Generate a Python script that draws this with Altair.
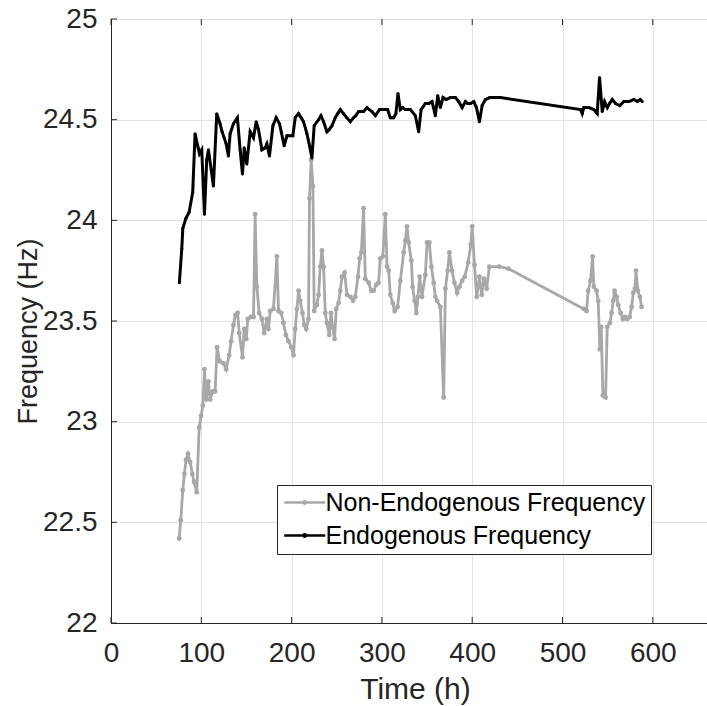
import altair as alt
import pandas as pd

# ---------------- data ----------------
endo_t = [75.7, 78.4, 79.5, 83.0, 86.5, 90.5, 93.1, 96.5, 98.0, 100.5, 103.5, 106.0, 107.9, 111.0,
          113.4, 117.1, 120.8, 123.0, 125.3, 127.5, 130.0, 131.9, 135.6, 140.0, 143.0, 145.6, 147.5,
          150.4, 154.1, 157.8, 160.8, 163.4, 167.1, 170.7, 172.6, 175.5, 179.3, 182.9, 186.6, 188.5,
          191.8, 194.8, 198.0, 201.4, 204.0, 207.7, 210.5, 213.2, 217.0, 219.9, 222.5, 225.0, 229.8,
          232.5, 235.4, 239.1, 241.5, 244.7, 248.3, 251.0, 253.9, 257.5, 261.0, 265.0, 268.6, 271.0,
          274.2, 279.7, 283.5, 286.0, 289.0, 292.7, 297.5, 301.9, 306.3, 309.3, 313.0, 315.5, 317.8,
          320.4, 323.0, 326.0, 331.5, 337.0, 340.7, 343.4, 348.1, 352.0, 355.5, 359.2, 361.8, 364.7,
          367.7, 371.0, 375.8, 381.4, 385.0, 388.8, 392.5, 395.0, 398.0, 401.7, 404.7, 408.0, 411.0,
          414.6, 419.4, 431.3, 520.0, 521.8, 523.6, 529.2, 534.7, 538.4, 541.0, 544.0, 546.6, 549.6,
          552.0, 555.1, 558.8, 563.5, 568.0, 573.5, 579.0, 582.8, 586.0, 588.3]
endo_f = [23.69, 23.86, 23.96, 24.01, 24.04, 24.14, 24.43, 24.36, 24.33, 24.35, 24.03, 24.30, 24.35, 24.25,
          24.17, 24.53, 24.48, 24.44, 24.41, 24.38, 24.32, 24.43, 24.48, 24.51, 24.35, 24.23, 24.36,
          24.28, 24.44, 24.41, 24.49, 24.45, 24.35, 24.36, 24.38, 24.32, 24.47, 24.51, 24.48, 24.44,
          24.37, 24.42, 24.42, 24.42, 24.51, 24.53, 24.51, 24.49, 24.43, 24.37, 24.31, 24.47, 24.50,
          24.52, 24.49, 24.44, 24.45, 24.47, 24.51, 24.53, 24.55, 24.53, 24.51, 24.49, 24.51, 24.52,
          24.54, 24.54, 24.56, 24.55, 24.54, 24.52, 24.55, 24.55, 24.55, 24.51, 24.51, 24.53, 24.63,
          24.55, 24.56, 24.55, 24.55, 24.52, 24.44, 24.55, 24.58, 24.58, 24.59, 24.52, 24.62, 24.56,
          24.61, 24.60, 24.61, 24.61, 24.59, 24.56, 24.59, 24.58, 24.58, 24.59, 24.56, 24.49, 24.57,
          24.60, 24.61, 24.61, 24.55, 24.53, 24.56, 24.56, 24.55, 24.53, 24.71, 24.54, 24.59, 24.56,
          24.58, 24.60, 24.58, 24.57, 24.59, 24.59, 24.60, 24.59, 24.60, 24.59]

non_t = [75.5, 77.2, 79.5, 81.3, 83.1, 85.3, 87.6, 90.1, 92.0, 95.0, 97.6, 99.8, 101.7, 103.5, 105.5,
         107.9, 109.8, 112.7, 115.3, 117.5, 120.3, 124.5, 127.5, 130.8, 133.0, 135.6, 137.8, 140.2,
         142.0, 145.6, 147.5, 149.8, 151.5, 155.0, 157.8, 159.6, 161.5, 164.1, 167.1, 169.6, 172.6,
         174.4, 176.3, 179.9, 183.7, 185.5, 188.5, 191.0, 193.7, 196.6, 199.6, 202.1, 204.0, 205.9,
         207.7, 209.5, 212.1, 214.0, 216.2, 218.7, 219.8, 221.7, 223.6, 225.0, 228.0, 229.9, 231.7,
         233.6, 235.4, 237.3, 239.1, 241.7, 243.6, 245.3, 247.6, 249.4, 252.0, 253.9, 255.8, 258.6,
         261.3, 265.0, 268.0, 270.5, 273.5, 275.3, 277.2, 279.7, 281.6, 285.3, 288.2, 290.8, 293.8,
         296.3, 298.2, 301.0, 303.8, 305.7, 307.5, 309.3, 311.9, 314.1, 317.4, 320.4, 324.1, 326.0,
         327.8, 329.6, 332.6, 334.0, 336.3, 338.1, 339.9, 341.8, 344.4, 348.1, 350.0, 352.5, 354.8,
         357.3, 359.2, 361.1, 364.7, 368.4, 370.3, 372.8, 374.7, 377.7, 380.3, 383.3, 385.8, 388.8,
         391.7, 395.5, 398.5, 400.0, 402.5, 405.0, 408.0, 410.5, 413.0, 416.0, 419.0, 430.0, 440.0,
         523.6, 526.6, 528.4, 531.0, 533.3, 534.7, 537.7, 539.5, 541.4, 542.9, 544.7, 547.7, 549.5,
         552.5, 554.3, 556.2, 557.6, 559.9, 561.7, 564.3, 566.8, 569.1, 571.7, 574.3, 576.5, 578.4,
         580.2, 581.3, 583.5, 585.7, 587.6]
non_f = [22.42, 22.51, 22.66, 22.74, 22.81, 22.84, 22.80, 22.74, 22.70, 22.65, 22.97, 23.03, 23.08, 23.26, 23.11,
         23.20, 23.11, 23.15, 23.15, 23.37, 23.30, 23.29, 23.26, 23.33, 23.40, 23.48, 23.53, 23.54,
         23.44, 23.32, 23.46, 23.41, 23.51, 23.52, 23.52, 24.03, 23.67, 23.54, 23.51, 23.44, 23.51,
         23.46, 23.55, 23.56, 23.82, 23.55, 23.54, 23.49, 23.43, 23.40, 23.37, 23.33, 23.46, 23.56,
         23.65, 23.60, 23.54, 23.48, 23.46, 23.51, 24.11, 24.30, 24.17, 23.55, 23.58, 23.63, 23.77,
         23.85, 23.77, 23.54, 23.49, 23.43, 23.54, 23.47, 23.41, 23.56, 23.59, 23.65, 23.72, 23.74,
         23.63, 23.62, 23.60, 23.62, 23.72, 23.81, 23.84, 24.06, 23.71, 23.69, 23.65, 23.65, 23.68,
         23.69, 23.81, 23.82, 24.03, 23.77, 23.75, 23.63, 23.59, 23.55, 23.57, 23.70, 23.84, 23.90,
         23.97, 23.89, 23.80, 23.67, 23.60, 23.54, 23.62, 23.72, 23.62, 23.73, 23.89, 23.89, 23.77,
         23.69, 23.62, 23.60, 23.57, 23.12, 23.66, 23.75, 23.84, 23.75, 23.69, 23.64, 23.67, 23.70,
         23.72, 23.79, 23.88, 23.97, 23.78, 23.62, 23.72, 23.63, 23.71, 23.66, 23.77, 23.77, 23.76,
         23.56, 23.55, 23.65, 23.70, 23.82, 23.67, 23.65, 23.60, 23.36, 23.47, 23.13, 23.12, 23.47,
         23.49, 23.54, 23.60, 23.65, 23.62, 23.58, 23.54, 23.51, 23.52, 23.51, 23.52, 23.57, 23.64,
         23.66, 23.75, 23.65, 23.62, 23.57]

series_names = ["Non-Endogenous Frequency", "Endogenous Frequency"]
series_colors = ["#a8a8a8", "#000000"]
x_ticks = [0, 100, 200, 300, 400, 500, 600]
y_ticks = [22, 22.5, 23, 23.5, 24, 24.5, 25]

# ---------------- tables ----------------
df_non = pd.DataFrame({"x": non_t, "y": non_f, "series": series_names[0]})
df_endo = pd.DataFrame({"x": endo_t, "y": endo_f, "series": series_names[1]})
df_xt = pd.DataFrame({"x": x_ticks})
df_yt = pd.DataFrame({"y": y_ticks})

FONT = "Liberation Sans"
AX = "#262626"
GRID = "#e3e3e3"

xscale = alt.Scale(domain=[0, 660], nice=False, zero=False)
yscale = alt.Scale(domain=[22, 25], nice=False, zero=False)

xaxis = alt.Axis(values=x_ticks, grid=True, gridColor=GRID, gridWidth=1, ticks=False,
                 domainColor=AX, domainWidth=1, labelFont=FONT, labelFontSize=28,
                 labelColor=AX, labelPadding=16, labelFlush=False,
                 title="Time (h)", titleFont=FONT, titleFontSize=30, titleColor=AX,
                 titleFontWeight="normal", titleX=304, titleY=75, titleBaseline="alphabetic",
                 titleAlign="center")
yaxis = alt.Axis(values=y_ticks, format="~g", grid=True, gridColor=GRID, gridWidth=1, ticks=False,
                 domainColor=AX, domainWidth=1, labelFont=FONT, labelFontSize=28,
                 labelColor=AX, labelPadding=14, labelFlush=False,
                 title="Frequency (Hz)", titleFont=FONT, titleFontSize=27, titleColor=AX,
                 titleFontWeight="normal", titleX=-75, titleY=312, titleAngle=270,
                 titleBaseline="alphabetic", titleAlign="center")

SYMBOL = "M-1,0H3M1.12,0A0.12,0.12,0,1,1,0.88,0A0.12,0.12,0,1,1,1.12,0Z"

color = alt.Color(
    "series:N",
    scale=alt.Scale(domain=series_names, range=series_colors),
    sort=series_names,
    legend=alt.Legend(orient="none", legendX=166, legendY=466, title=None,
                      strokeColor=AX, fillColor="white", padding=5,
                      symbolType=SYMBOL, symbolSize=420, symbolStrokeWidth=2.5,
                      labelFont=FONT, labelFontSize=25, labelColor="black",
                      labelOffset=18.5, rowPadding=7, labelLimit=600),
)

non_layer = alt.Chart(df_non).mark_line(
    strokeWidth=2.8, point=alt.OverlayMarkDef(filled=True, size=24, opacity=1)
).encode(x=alt.X("x:Q", scale=xscale, axis=xaxis),
         y=alt.Y("y:Q", scale=yscale, axis=yaxis),
         color=color)

endo_layer = alt.Chart(df_endo).mark_line(
    strokeWidth=3, point=alt.OverlayMarkDef(filled=True, size=9, opacity=1)
).encode(x=alt.X("x:Q", scale=xscale, axis=xaxis),
         y=alt.Y("y:Q", scale=yscale, axis=yaxis),
         color=color)

xt_bottom = alt.Chart(df_xt).mark_rule(color=AX, strokeWidth=1).encode(
    x=alt.X("x:Q", scale=xscale, axis=xaxis), y=alt.value(604), y2=alt.value(598))
xt_top = alt.Chart(df_xt).mark_rule(color=AX, strokeWidth=1).encode(
    x=alt.X("x:Q", scale=xscale, axis=xaxis), y=alt.value(0), y2=alt.value(6))
yt_left = alt.Chart(df_yt).mark_rule(color=AX, strokeWidth=1).encode(
    y=alt.Y("y:Q", scale=yscale, axis=yaxis), x=alt.value(0), x2=alt.value(6))

chart = alt.layer(xt_bottom, xt_top, yt_left, non_layer, endo_layer).properties(
    width=596, height=604,
    padding={"left": 111, "top": 19, "right": 0, "bottom": 83},
    autosize=alt.AutoSizeParams(type="none"),
    background="white",
).configure_view(stroke=AX, strokeWidth=1)

chart.save("out.html", embed_options={"renderer": "svg", "actions": False})
